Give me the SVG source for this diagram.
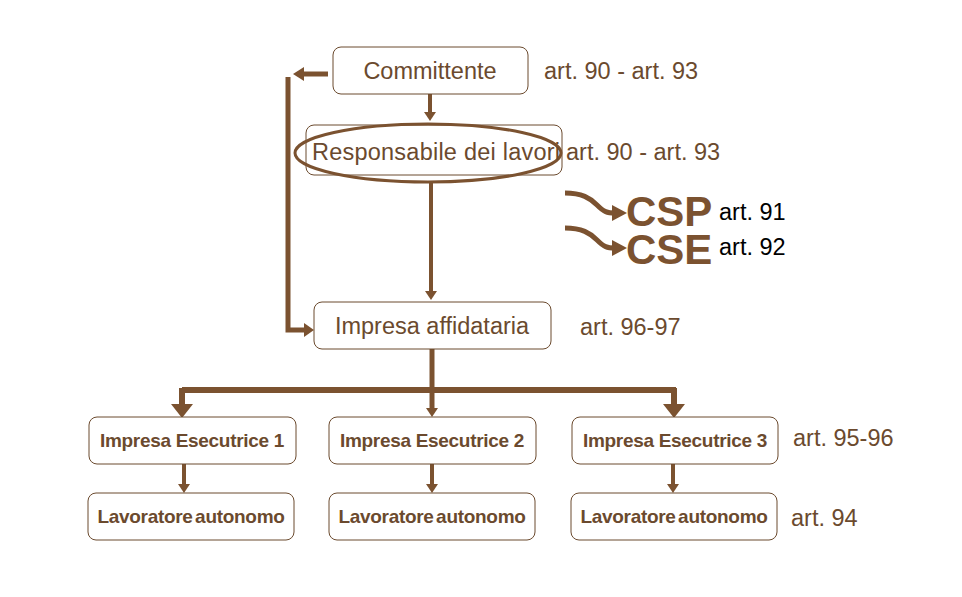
<svg xmlns="http://www.w3.org/2000/svg" width="962" height="597" viewBox="0 0 962 597">
<style>
.box{fill:#fff;stroke:#6b4a2e;stroke-width:1}
.t{font-family:"Liberation Sans",Arial,sans-serif;font-size:23.5px;fill:#6b4a2e}
.b{font-family:"Liberation Sans",Arial,sans-serif;font-size:19px;font-weight:bold;fill:#6b4a2e;text-anchor:middle;letter-spacing:-0.3px}
.k{font-family:"Liberation Sans",Arial,sans-serif;font-size:23.5px;fill:#000}
.big{font-family:"Liberation Sans",Arial,sans-serif;font-size:42px;font-weight:bold;fill:#7b5230}
.c{fill:none;stroke:#7b5230;stroke-width:5}
.thin{fill:none;stroke:#7b5230;stroke-width:4}
.h{fill:#7b5230}
</style>
<rect width="962" height="597" fill="#fff"/>
<g id="connectors">
  <path class="thin" d="M430 94V113"/><path class="h" d="M424 112L436 112L430 121Z"/>
  <path class="c" d="M328 74H302"/><path class="h" d="M304 67L304 81L293 74Z"/>
  <path class="c" d="M288 77V330H305"/><path class="h" d="M304 323L304 337L314 330Z"/>
  <path class="thin" d="M431 182V292"/><path class="h" d="M425 291L437 291L431 300Z"/>
  <path class="c" d="M432 349V408"/><path class="h" d="M426 408L438 408L432 417Z"/>
  <path class="c" d="M182 390H676 M182 388V405 M674 388V405" style="stroke-width:6"/>
  <path class="h" d="M171 404L193 404L182 418Z"/><path class="h" d="M663 404L685 404L674 418Z"/>
  <path class="thin" d="M184 464V485"/><path class="h" d="M178 484L190 484L184 493Z"/>
  <path class="thin" d="M432 464V485"/><path class="h" d="M426 484L438 484L432 493Z"/>
  <path class="thin" d="M673 464V485"/><path class="h" d="M667 484L679 484L673 493Z"/>
  <path class="c" d="M565 193C582 193 590 198 597 205S607 213 615 213"/><path class="h" d="M612 205L627 213L612 221Z"/>
  <path class="c" d="M565 228C582 228 590 233 597 240S607 248 615 248"/><path class="h" d="M612 240L627 248L612 256Z"/>
</g>
<g id="committente"><rect class="box" x="333" y="47" width="195" height="47" rx="8"/><text class="t" x="430" y="79" text-anchor="middle">Committente</text><text class="t" x="544" y="79">art. 90 - art. 93</text></g>
<g id="responsabile"><rect class="box" x="306" y="125" width="256" height="50" rx="8"/><ellipse cx="428" cy="153" rx="133" ry="29" fill="none" stroke="#7b5230" stroke-width="3"/><text class="t" x="312" y="160" textLength="248">Responsabile dei lavori</text><text class="t" x="566" y="160">art. 90 - art. 93</text></g>
<g id="csp"><text class="big" x="626" y="226">CSP</text><text class="k" x="719" y="220">art. 91</text></g>
<g id="cse"><text class="big" x="626" y="264">CSE</text><text class="k" x="719" y="255">art. 92</text></g>
<g id="affidataria"><rect class="box" x="314" y="302" width="237" height="47" rx="8"/><text class="t" x="432" y="334" text-anchor="middle">Impresa affidataria</text><text class="t" x="580" y="335">art. 96-97</text></g>
<g id="esecutrice1"><rect class="box" x="89" y="417" width="207" height="47" rx="8"/><text class="b" x="192" y="447">Impresa Esecutrice 1</text></g>
<g id="esecutrice2"><rect class="box" x="329" y="417" width="207" height="47" rx="8"/><text class="b" x="432" y="447">Impresa Esecutrice 2</text></g>
<g id="esecutrice3"><rect class="box" x="572" y="417" width="206" height="47" rx="8"/><text class="b" x="675" y="447">Impresa Esecutrice 3</text><text class="t" x="793" y="446">art. 95-96</text></g>
<g id="lavoratore1"><rect class="box" x="88" y="493" width="206" height="47" rx="8"/><text class="b" x="191" y="523" word-spacing="-2.5">Lavoratore autonomo</text></g>
<g id="lavoratore2"><rect class="box" x="329" y="493" width="206" height="47" rx="8"/><text class="b" x="432" y="523" word-spacing="-2.5">Lavoratore autonomo</text></g>
<g id="lavoratore3"><rect class="box" x="571" y="493" width="206" height="47" rx="8"/><text class="b" x="674" y="523" word-spacing="-2.5">Lavoratore autonomo</text><text class="t" x="791" y="526">art. 94</text></g>
</svg>
